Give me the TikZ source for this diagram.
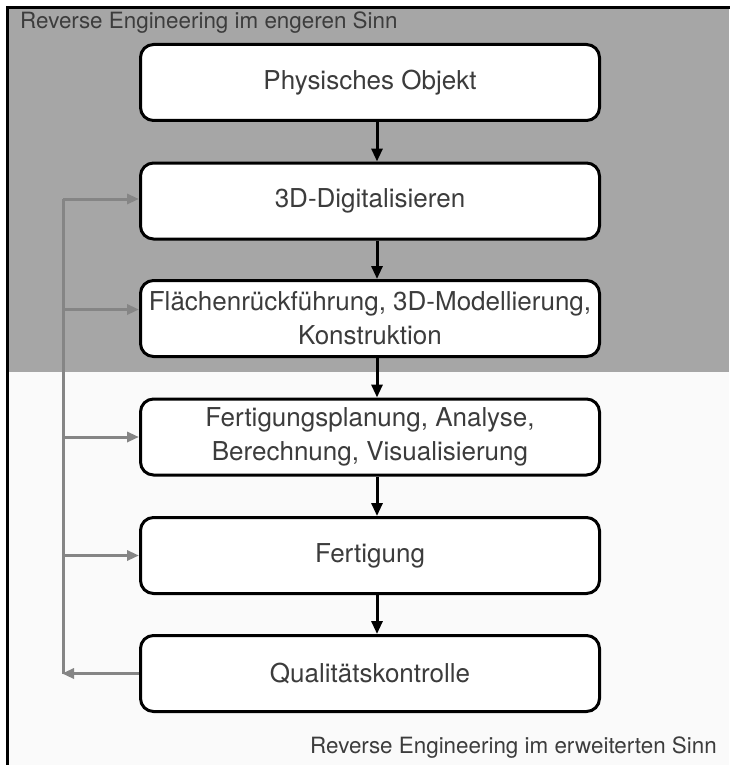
\documentclass[tikz,border=0pt]{standalone}
\usepackage{fontspec}
\setmainfont{TeX Gyre Heros}
\usetikzlibrary{arrows.meta}
\definecolor{zonegray}{HTML}{A6A6A6}
\definecolor{zonelight}{HTML}{FAFAFA}
\definecolor{linkgray}{HTML}{858585}
\definecolor{txt}{HTML}{3C3C3C}
\tikzset{
  stepbox/.style={draw=black, line width=3pt, fill=white, rounded corners=13pt,
    minimum width=459pt, minimum height=76pt, inner sep=0pt, align=center,
    text=txt, font=\fontsize{26}{34}\selectfont},
  flow/.style={line width=3pt, -{Triangle[length=13pt,width=11pt]}},
  feedback/.style={draw=linkgray, line width=3pt, -{Triangle[length=12pt,width=10pt]}},
  trunkline/.style={draw=linkgray, line width=3pt},
  zonelabel/.style={text=txt, font=\fontsize{22.4}{26}\selectfont, inner sep=0pt}
}
\begin{document}
\begin{tikzpicture}[x=1pt, y=-1pt]
\useasboundingbox (0,0) rectangle (729,765);
% the two zones: narrow sense (grey) and wide sense (light)
\fill[zonelight] (7,8) rectangle (729,765);
\fill[zonegray] (7,8) rectangle (729,372);
\draw[line width=3pt] (7,770) -- (7,8) -- (735,8);
\node[zonelabel, anchor=west] (narrow) at (20,23) {Reverse Engineering im engeren Sinn};
\node[zonelabel, anchor=east] (wide) at (717,748) {Reverse Engineering im erweiterten Sinn};
% process steps
\node[stepbox] (b1) at (370,82.5) {Physisches Objekt};
\node[stepbox] (b2) at (370,201) {3D-Digitalisieren};
\node[stepbox] (b3) at (370,318.5) {Flächenrückführung, 3D-Modellierung,\\Konstruktion};
\node[stepbox] (b4) at (370,437) {Fertigungsplanung, Analyse,\\Berechnung, Visualisierung};
\node[stepbox] (b5) at (370,555.5) {Fertigung};
\node[stepbox] (b6) at (370,673.5) {Qualitätskontrolle};
% main flow
\foreach \a/\b in {b1/b2,b2/b3,b3/b4,b4/b5,b5/b6}
  \draw[flow] ([xshift=7pt]\a.south) -- ([xshift=7pt]\b.north);
% feedback loop from quality control
\coordinate (trunk) at (63,0);
\draw[trunkline] (b6.west -| trunk) -- ([yshift=2pt]b2.west -| trunk);
\draw[feedback] (b6.west) -- ([xshift=-1pt]b6.west -| trunk);
\draw[feedback] ([yshift=2pt]b2.west -| trunk) -- ([yshift=2pt]b2.west);
\draw[feedback] ([yshift=9pt]b3.west -| trunk) -- ([yshift=9pt]b3.west);
\draw[feedback] (b4.west -| trunk) -- (b4.west);
\draw[feedback] (b5.west -| trunk) -- (b5.west);
\end{tikzpicture}
\end{document}
